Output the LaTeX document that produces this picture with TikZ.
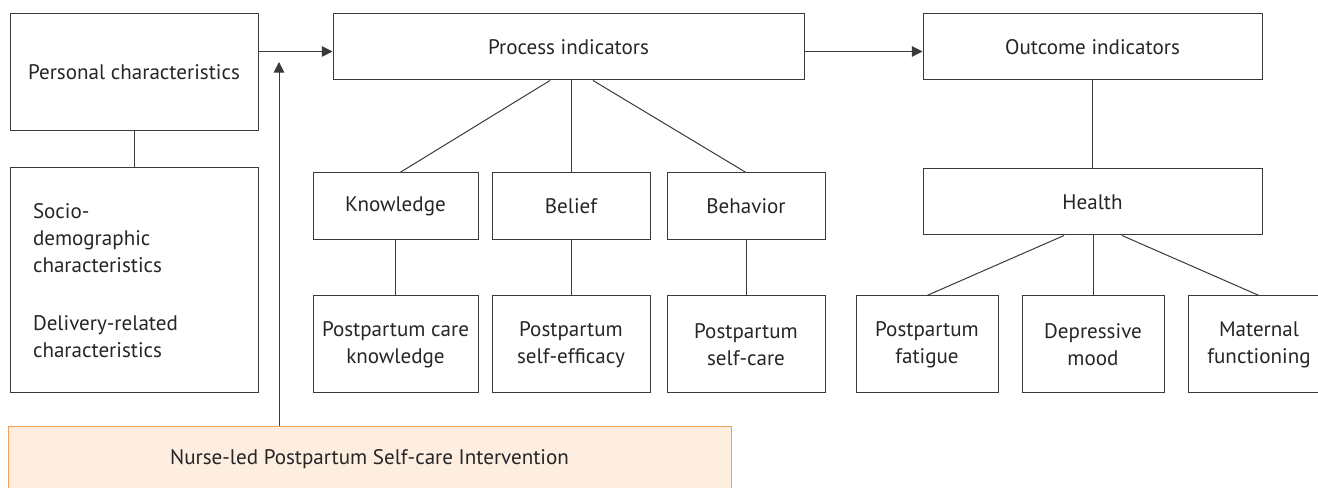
\documentclass[tikz,border=0pt]{standalone}
\usepackage{fontspec}
\setmainfont{PT Sans}
\usepackage{xcolor}
\usetikzlibrary{arrows.meta, calc, positioning}
\tikzset{> = { Triangle[length = 8pt, width = 8pt] }}

\definecolor{linegray}{HTML}{3A3A3A}
\definecolor{peach}{HTML}{FDEEE0}
\definecolor{peachline}{HTML}{F5A055}

\begin{document}
\begin{tikzpicture}[x = 0.75pt, y = -0.75pt,
		every node/.style = {font = \fontsize{15.8}{20.25}\selectfont, text = black!85},
		box/.style = {draw = linegray, line width = 0.75pt, inner sep = 0pt, align = center},
		link/.style = {draw = linegray, line width = 0.75pt}]
		\useasboundingbox (0, 0) rectangle (1318, 488);

		% left column
		\node [box, minimum width = 186pt, minimum height = 87.75pt] (pers) at (134, 72.5) {Personal characteristics};
		\node [box, align = left, text width = 151.5pt, inner xsep = 17.25pt, minimum height = 168.75pt] (socio) at (134, 280.5)
			{Socio-\\demographic\\characteristics\\[23pt]Delivery-related\\characteristics};
		\draw [link] (pers) -- (socio);

		% process indicators
		\node [box, minimum width = 353.25pt, minimum height = 49.5pt] (proc) at (568.5, 47) {Process indicators};
		\node [box, minimum width = 123.75pt, minimum height = 50.25pt] (know) at (395.5, 206.5) {Knowledge};
		\node [box, minimum width = 118.5pt, minimum height = 50.25pt] (belief) at (571, 206.5) {Belief};
		\node [box, minimum width = 118.5pt, minimum height = 50.25pt] (behav) at (746, 206.5) {Behavior};
		\node [box, minimum width = 123.75pt, minimum height = 72.75pt] (knowm) at (395.5, 344.5) {Postpartum care\\knowledge};
		\node [box, minimum width = 118.5pt, minimum height = 72.75pt] (effic) at (571, 344.5) {Postpartum\\self-efficacy};
		\node [box, minimum width = 118.5pt, minimum height = 72.75pt] (selfc) at (746, 344.5) {Postpartum\\self-care};
		\draw [link] ($(proc.south)+(-18.5, 0)$) -- ($(know.north)+(4.5, 0)$);
		\draw [link] (proc.south -| belief) -- (belief.north);
		\draw [link] ($(proc.south)+(24.5, 0)$) -- (behav.north);
		\draw [link] (know) -- (knowm);
		\draw [link] (belief) -- (effic);
		\draw [link] (behav) -- (selfc);

		% outcome indicators
		\node [box, minimum width = 254.25pt, minimum height = 49.5pt] (outc) at (1092.5, 47) {Outcome indicators};
		\node [box, minimum width = 254.25pt, minimum height = 49.5pt] (health) at (1092.5, 202) {Health};
		\node [box, minimum width = 106.5pt, minimum height = 72.75pt] (fatig) at (927, 344.5) {Postpartum\\fatigue};
		\node [box, minimum width = 106.5pt, minimum height = 72.75pt] (depr) at (1093, 344.5) {Depressive\\mood};
		\node [box, minimum width = 106.5pt, minimum height = 72.75pt] (matern) at (1259, 344.5) {Maternal\\functioning};
		\draw [link] (outc) -- (health);
		\draw [link] ($(health.south)+(-28.5, 0)$) -- (fatig.north);
		\draw [link] (health.south -| depr) -- (depr.north);
		\draw [link] ($(health.south)+(29.5, 0)$) -- (matern.north);

		% intervention
		\node [box, draw = peachline, fill = peach, minimum width = 542.25pt, minimum height = 49.5pt] (interv) at (369.5, 459)
			{Nurse-led Postpartum Self-care Intervention};

		% arrows
		\coordinate (arry) at (0, 51.5);
		\coordinate (tip) at (279, 62);
		\draw [link, ->] (pers.east |- arry) -- (proc.west |- arry);
		\draw [link, ->] (proc.east |- arry) -- (outc.west |- arry);
		\draw [link, ->] (interv.north -| tip) -- (tip);
	\end{tikzpicture}
\end{document}
